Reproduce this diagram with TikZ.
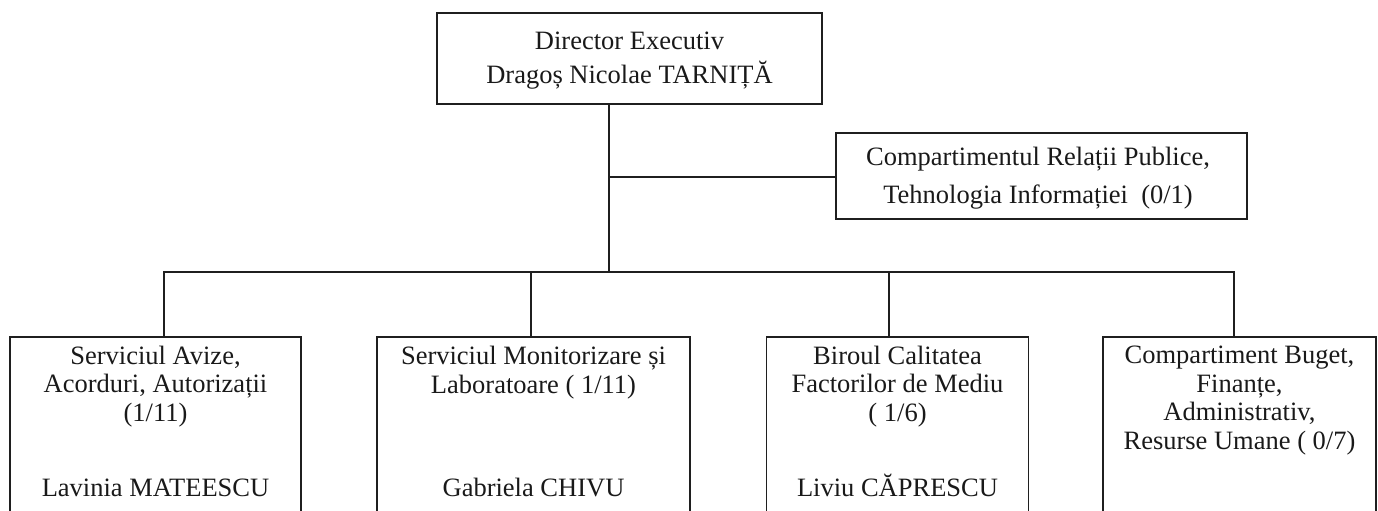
\documentclass[tikz,border=0pt]{standalone}
\usepackage{fontspec}
\setmainfont{Liberation Serif}
\begin{document}
\begin{tikzpicture}[x=1pt,y=-1pt,
  box/.style={draw=black!88, line width=1.4pt, inner sep=0pt},
  conn/.style={draw=black!88, line width=1.4pt},
  txt/.style={align=center, inner sep=0pt, anchor=base, text=black!90,
    font=\fontsize{26.5}{28.5}\selectfont}]
\useasboundingbox (0,0) rectangle (1378,511);
\clip (0,0) rectangle (1378,511);
% boxes
\node[box, minimum width=385pt, minimum height=91pt] (dir) at (629.5,58.5) {};
\node[box, minimum width=411pt, minimum height=86pt] (rp) at (1041.5,176) {};
\node[box, minimum width=291pt, minimum height=200pt] (b1) at (155.5,437) {};
\node[box, minimum width=313pt, minimum height=200pt] (b2) at (533.5,437) {};
\node[box, minimum width=262pt, minimum height=200pt] (b3) at (897.5,437) {};
\node[box, minimum width=273pt, minimum height=200pt] (b4) at (1239.5,437) {};
% texts (anchor base = baseline of last line)
\node[txt, font=\fontsize{26.5}{33}\selectfont] (t0) at (629.5,83) {Director Executiv\\Dragoș Nicolae TARNIȚĂ};
\node[txt, font=\fontsize{26.5}{38}\selectfont] (tr) at (1038,203) {Compartimentul Relații Publice,\\Tehnologia Informației~~(0/1)};
\node[txt] (t1) at (155.5,421) {Serviciul Avize,\\Acorduri, Autorizații\\(1/11)};
\node[txt] (t2) at (533.5,393) {Serviciul Monitorizare și\\Laboratoare ( 1/11)};
\node[txt] (t3) at (897.5,421) {Biroul Calitatea\\Factorilor de Mediu\\( 1/6)};
\node[txt] (t4) at (1239.5,449) {Compartiment Buget,\\Finanțe,\\Administrativ,\\Resurse Umane ( 0/7)};
\node[txt] (n1) at (155.5,496) {Lavinia MATEESCU};
\node[txt] (n2) at (533.5,496) {Gabriela CHIVU};
\node[txt] (n3) at (897.5,496) {Liviu CĂPRESCU};
% connectors
\coordinate (j0) at (609,272);
\coordinate (k) at (609,177);
\coordinate (d1) at (164,272);
\coordinate (d2) at (531,272);
\coordinate (d3) at (889,272);
\coordinate (d4) at (1234,272);
\draw[conn] (dir.south -| j0) -- (j0);
\draw[conn] (k) -- (k -| rp.west);
\draw[conn] (b1.north -| d1) -- (d1) -- (d4) -- (d4 |- b4.north);
\draw[conn] (d2) -- (d2 |- b2.north);
\draw[conn] (d3) -- (d3 |- b3.north);
\end{tikzpicture}
\end{document}
